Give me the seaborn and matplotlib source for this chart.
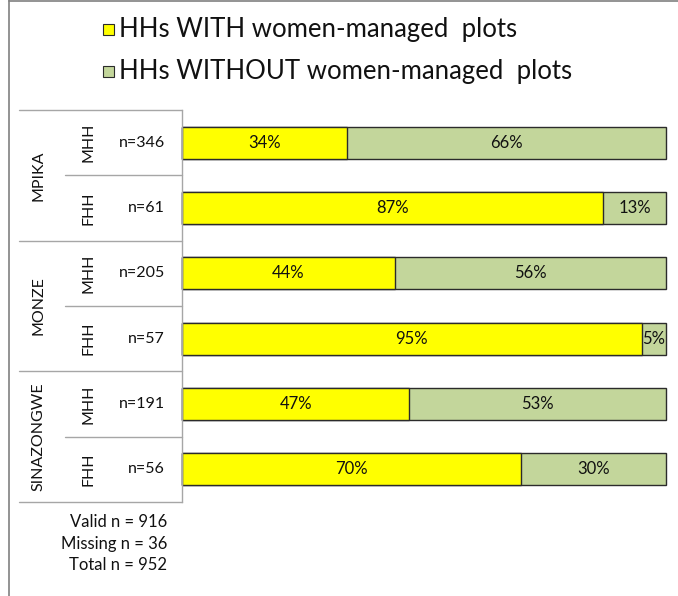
import matplotlib
matplotlib.use("Agg")
import matplotlib.pyplot as plt
from matplotlib.lines import Line2D
from matplotlib.patches import Rectangle
import seaborn as sns
import pandas as pd

regions = ["MPIKA", "MPIKA", "MONZE", "MONZE", "SINAZONGWE", "SINAZONGWE"]
hh_types = ["MHH", "FHH", "MHH", "FHH", "MHH", "FHH"]
n_labels = ["n=346", "n=61", "n=205", "n=57", "n=191", "n=56"]
with_pct = [34, 87, 44, 95, 47, 70]
without_pct = [66, 13, 56, 5, 53, 30]
legend_labels = ["HHs WITH women-managed  plots", "HHs WITHOUT women-managed  plots"]
footnotes = ["Valid n = 916", "Missing n = 36", "Total n = 952"]

YELLOW = "#FFFF00"
GREEN = "#C3D69B"
EDGE = "#2b2b2b"
GRID = "#A6A6A6"

sns.set_theme(style="white")
plt.rcParams["font.family"] = ["Lato", "DejaVu Sans"]

df = pd.DataFrame({
    "row": [f"{r} {h}" for r, h in zip(regions, hh_types)],
    "with": with_pct,
    "without": without_pct,
})
df["total"] = df["with"] + df["without"]

W, H = 678, 596
fig = plt.figure(figsize=(W / 100, H / 100), dpi=100)
ax = fig.add_axes([182 / W, 1 - 502 / H, (666 - 182) / W, (502 - 110) / H])

sns.barplot(data=df, x="total", y="row", color=GREEN, edgecolor=EDGE,
            linewidth=1.0, width=0.49, saturation=1, ax=ax, orient="h")
sns.barplot(data=df, x="with", y="row", color=YELLOW, edgecolor=EDGE,
            linewidth=1.0, width=0.49, saturation=1, ax=ax, orient="h")
for p in ax.patches:
    p.set_clip_on(False)

ax.set_xlim(0, 100)
ax.set_ylim(len(df) - 0.5, -0.5)
ax.set_xlabel("")
ax.set_ylabel("")
ax.set_xticks([])
ax.set_yticks([])
for s in ["top", "right", "bottom"]:
    ax.spines[s].set_visible(False)
ax.spines["left"].set_color(GRID)
ax.spines["left"].set_linewidth(1.0)

FS = 11.5
for i, (w, wo) in enumerate(zip(with_pct, without_pct)):
    ax.text(w / 2, i, f"{w}%", ha="center", va="center", fontsize=12, color="#111111")
    ax.text(w + wo / 2, i, f"{wo}%", ha="center", va="center", fontsize=12, color="#111111")

def fx(px):
    return px / W

def fy(py):
    return 1 - py / H

row_h = (502 - 110) / 6
for i in range(6):
    cy = 110 + row_h * (i + 0.5)
    fig.text(fx(165), fy(cy), n_labels[i], ha="right", va="center", fontsize=FS, color="#111111")
    fig.text(fx(88), fy(cy), hh_types[i], ha="center", va="center", rotation=90, fontsize=FS, color="#111111")

for g in range(3):
    cy = 110 + row_h * (2 * g + 1)
    fig.text(fx(38), fy(cy), regions[2 * g], ha="center", va="center", rotation=90, fontsize=FS, color="#111111")

for k in range(7):
    py = 110 + row_h * k
    x0 = 19 if k % 2 == 0 else 65
    fig.add_artist(Line2D([fx(x0), fx(182)], [fy(py), fy(py)], color=GRID, linewidth=1.0))

for j, t in enumerate(footnotes):
    fig.text(fx(167), fy(522 + 21.5 * j), t, ha="right", va="center", fontsize=12, color="#111111")

for j, (lab, col) in enumerate(zip(legend_labels, [YELLOW, GREEN])):
    cy = 29 + 42 * j
    fig.add_artist(Rectangle((fx(103), fy(cy + 6)), 11 / W, 11 / H, facecolor=col,
                             edgecolor=EDGE, linewidth=0.8, transform=fig.transFigure))
    fig.text(fx(119), fy(cy), lab, ha="left", va="center", fontsize=18.5, color="#111111")

fig.add_artist(Line2D([fx(9), fx(9)], [0, 1], color="#808080", linewidth=1.2))
fig.add_artist(Line2D([fx(9), 1], [fy(1), fy(1)], color="#808080", linewidth=1.2))

fig.savefig("out.png", dpi=100)
